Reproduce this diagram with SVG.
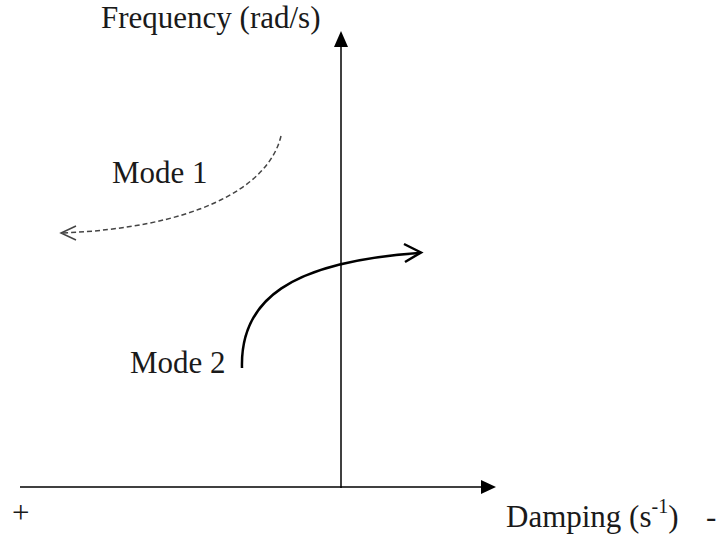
<svg xmlns="http://www.w3.org/2000/svg" width="717" height="538" viewBox="0 0 717 538">
<style>
text{font-family:"Liberation Serif","Times New Roman",serif;font-size:31px;fill:#1a1a1a}
.axis{stroke:#000;stroke-width:1.5;fill:none}
</style>
<rect width="717" height="538" fill="#fff"/>
<g id="connectors">
<line class="axis" x1="341" y1="488" x2="341" y2="45"/>
<path d="M334,47 L341,31 L348,47 Z" fill="#000"/>
<line class="axis" x1="20" y1="487" x2="482" y2="487"/>
<path d="M481,480 L496,487 L481,494 Z" fill="#000"/>
<g id="mode1-curve">
<path d="M281,136 C268,190 190,228 62,233" fill="none" stroke="#444" stroke-width="1.5" stroke-dasharray="5,3"/>
<path d="M76,226 L61,233 L76,240" fill="none" stroke="#444" stroke-width="1.5"/>
</g>
<g id="mode2-curve">
<path d="M242,368 C240,300 290,262 419,253" fill="none" stroke="#000" stroke-width="2.5"/>
<path d="M404,244 L421,252.5 L405,262" fill="none" stroke="#000" stroke-width="2.5"/>
</g>
</g>
<g id="y-label"><text x="101" y="28">Frequency (rad/s)</text></g>
<g id="mode1"><text x="112" y="183">Mode 1</text></g>
<g id="mode2"><text x="130" y="373">Mode 2</text></g>
<g id="plus"><text x="12" y="523">+</text></g>
<g id="x-label"><text x="506" y="527">Damping (s<tspan font-size="20" dy="-14">-1</tspan><tspan dy="14">)</tspan></text></g>
<g id="minus"><text x="706" y="527">-</text></g>
</svg>
